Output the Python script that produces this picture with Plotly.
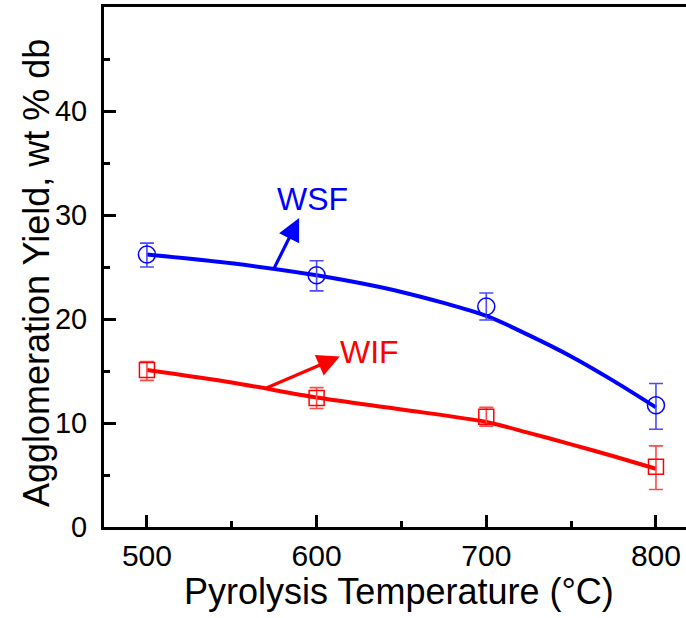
import plotly.graph_objects as go

# Measured agglomeration yields (wt % db) vs pyrolysis temperature
temps = [500, 600, 700, 800]
wsf_yield = [26.2, 24.2, 21.2, 11.7]
wsf_err_up = [1.1, 1.4, 1.3, 2.1]
wsf_err_down = [1.2, 1.5, 1.3, 2.3]
wif_yield = [15.1, 12.4, 10.6, 5.8]
wif_err_up = [0.8, 1.0, 0.9, 2.0]
wif_err_down = [1.0, 1.0, 0.9, 2.2]

# Smoothed trend curves
fit_temps = [500, 550, 600, 650, 700, 725, 750, 775, 800]
wsf_fit = [26.2, 25.35, 24.2, 22.6, 20.3, 18.45, 16.4, 14.05, 11.5]
wif_fit = [15.1, 13.9, 12.45, 11.3, 10.1, 9.05, 7.95, 6.8, 5.6]

BLUE = "#0000ff"
RED = "#ff0000"
BLUE_EB = "#4a4aff"
RED_EB = "#ff4a4a"
FONT = "Liberation Sans, Arial, sans-serif"

fig = go.Figure()

fig.add_trace(go.Scatter(x=fit_temps, y=wsf_fit, mode="lines",
                         line=dict(color=BLUE, width=4, shape="spline", smoothing=0.8),
                         showlegend=False, hoverinfo="skip"))
fig.add_trace(go.Scatter(x=fit_temps, y=wif_fit, mode="lines",
                         line=dict(color=RED, width=4, shape="spline", smoothing=0.8),
                         showlegend=False, hoverinfo="skip"))

fig.add_trace(go.Scatter(
    x=temps, y=wsf_yield, mode="markers", name="WSF",
    marker=dict(symbol="circle-open", size=17, color=BLUE, line=dict(width=1.5)),
    error_y=dict(type="data", symmetric=False, array=wsf_err_up, arrayminus=wsf_err_down,
                 color=BLUE_EB, thickness=1.6, width=7),
    showlegend=False))
fig.add_trace(go.Scatter(
    x=temps, y=wif_yield, mode="markers", name="WIF",
    marker=dict(symbol="square-open", size=15, color=RED, line=dict(width=1.5)),
    error_y=dict(type="data", symmetric=False, array=wif_err_up, arrayminus=wif_err_down,
                 color=RED_EB, thickness=1.6, width=7),
    showlegend=False))

# Series labels with pointer arrows
fig.add_annotation(x=589.7, y=29.7, ax=574.4, ay=24.7, xref="x", yref="y", axref="x", ayref="y",
                   text="", showarrow=True, arrowhead=2, arrowsize=1.4, arrowwidth=3.2,
                   arrowcolor=BLUE)
fig.add_annotation(x=597.8, y=31.5, xref="x", yref="y", text="WSF", showarrow=False,
                   font=dict(family=FONT, size=32, color=BLUE))
fig.add_annotation(x=613.7, y=16.4, ax=569.5, ay=13.3, xref="x", yref="y", axref="x", ayref="y",
                   text="", showarrow=True, arrowhead=2, arrowsize=1.4, arrowwidth=3.2,
                   arrowcolor=RED)
fig.add_annotation(x=631.4, y=16.8, xref="x", yref="y", text="WIF", showarrow=False,
                   font=dict(family=FONT, size=32, color=RED))

# Axis titles
fig.add_annotation(x=0.507, y=-0.1231, xref="paper", yref="paper", showarrow=False,
                   xanchor="center", yanchor="middle",
                   text="Pyrolysis Temperature (°C)", font=dict(family=FONT, size=36, color="black"))
fig.add_annotation(x=-0.116, y=0.4894, xref="paper", yref="paper", showarrow=False,
                   xanchor="center", yanchor="middle", textangle=-90,
                   text="Agglomeration Yield, wt % db", font=dict(family=FONT, size=36, color="black"))

fig.update_layout(
    width=686, height=618,
    margin=dict(l=104, r=0, t=7, b=91),
    paper_bgcolor="white", plot_bgcolor="white",
    font=dict(family=FONT, color="black"),
    showlegend=False,
)
fig.update_xaxes(
    range=[474.7, 817.7], tickvals=[500, 600, 700, 800],
    ticks="inside", ticklen=12, tickwidth=2.5, tickcolor="black",
    minor=dict(tickvals=[550, 650, 750], ticks="inside", ticklen=6, tickwidth=2.5, tickcolor="black"),
    showline=True, linewidth=3, linecolor="black", mirror=True,
    showgrid=False, zeroline=False,
    tickfont=dict(size=30, family=FONT),
)
fig.update_yaxes(
    range=[0, 50], tickvals=[0, 10, 20, 30, 40],
    ticks="inside", ticklen=12, tickwidth=2.5, tickcolor="black",
    minor=dict(tickvals=[5, 15, 25, 35, 45], ticks="inside", ticklen=6, tickwidth=2.5, tickcolor="black"),
    showline=True, linewidth=3, linecolor="black", mirror=False,
    showgrid=False, zeroline=False,
    tickfont=dict(size=29, family=FONT), ticklabelstandoff=8,
)

fig.write_html("out.html")
